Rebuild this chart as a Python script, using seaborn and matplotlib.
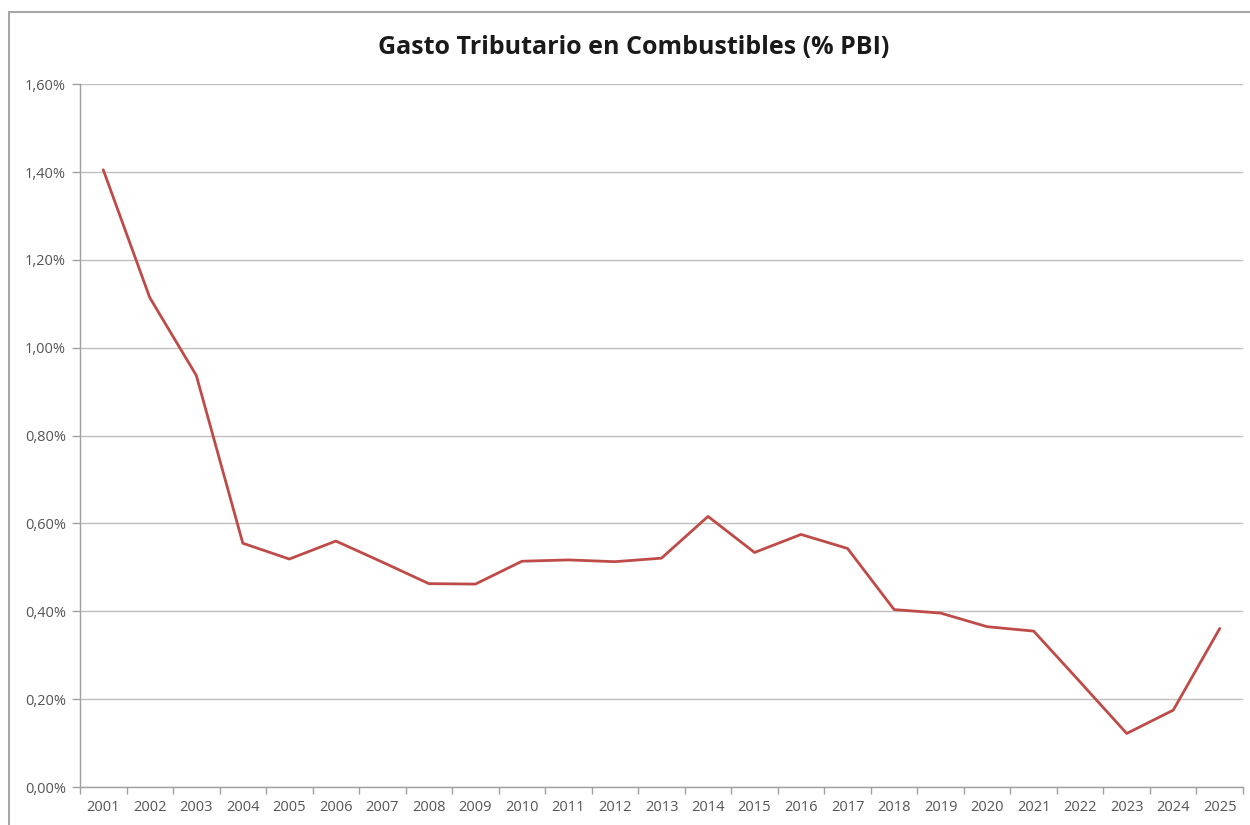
import matplotlib
matplotlib.use("Agg")
import matplotlib.pyplot as plt
import seaborn as sns
import pandas as pd
from matplotlib.ticker import FuncFormatter, FixedLocator
from matplotlib.patches import Rectangle

years = [str(y) for y in range(2001, 2026)]
gasto_pct = [1.405, 1.114, 0.937, 0.555, 0.519, 0.560, 0.512, 0.463, 0.462,
             0.514, 0.517, 0.513, 0.521, 0.616, 0.534, 0.575, 0.543, 0.404,
             0.396, 0.365, 0.355, 0.239, 0.122, 0.175, 0.361]
y_ticks = [0.0, 0.2, 0.4, 0.6, 0.8, 1.0, 1.2, 1.4, 1.6]
title = "Gasto Tributario en Combustibles (% PBI)"

df = pd.DataFrame({"anio": years, "gasto": gasto_pct})

sns.set_theme(style="white")
plt.rcParams["font.family"] = ["Open Sans", "DejaVu Sans"]

fig = plt.figure(figsize=(12.5, 8.25), dpi=100)
ax = fig.add_axes([0.064, 0.046, 0.9304, 0.852])

sns.lineplot(data=df, x="anio", y="gasto", ax=ax, color="#BE4B48",
             linewidth=2.0, sort=False)

ax.set_xlim(-0.5, len(years) - 0.5)
ax.set_ylim(0, 1.6)
ax.yaxis.set_major_locator(FixedLocator(y_ticks))
ax.yaxis.set_major_formatter(
    FuncFormatter(lambda v, _: f"{v:.2f}".replace(".", ",") + "%"))
ax.grid(axis="y", color="#bfbfbf", linewidth=1.0)
ax.set_axisbelow(True)

ax.set_xlabel("")
ax.set_ylabel("")

# category boundary ticks on the x axis
ax.xaxis.set_minor_locator(FixedLocator([i - 0.5 for i in range(len(years) + 1)]))
ax.tick_params(axis="x", which="major", length=0, pad=9,
               labelsize=10.5, labelcolor="#555555")
ax.tick_params(axis="x", which="minor", length=5, width=1, color="#a0a0a0",
               bottom=True)
ax.tick_params(axis="y", which="major", length=6, width=1, color="#a0a0a0",
               left=True, pad=4, labelsize=10.5, labelcolor="#555555")

for side in ["top", "right"]:
    ax.spines[side].set_visible(False)
for side in ["left", "bottom"]:
    ax.spines[side].set_color("#a0a0a0")
    ax.spines[side].set_linewidth(1.0)

fig.text(0.507, 0.942, title, ha="center", va="center",
         fontsize=18, fontweight="bold", color="#1a1a1a")

# outer chart frame
fig.patches.append(Rectangle((9 / 1250, -0.05), 1.1, 1.05 - 12 / 825,
                             transform=fig.transFigure, fill=False,
                             edgecolor="#a6a6a6", linewidth=1.5))

fig.savefig("out.png", dpi=100, facecolor="white")
